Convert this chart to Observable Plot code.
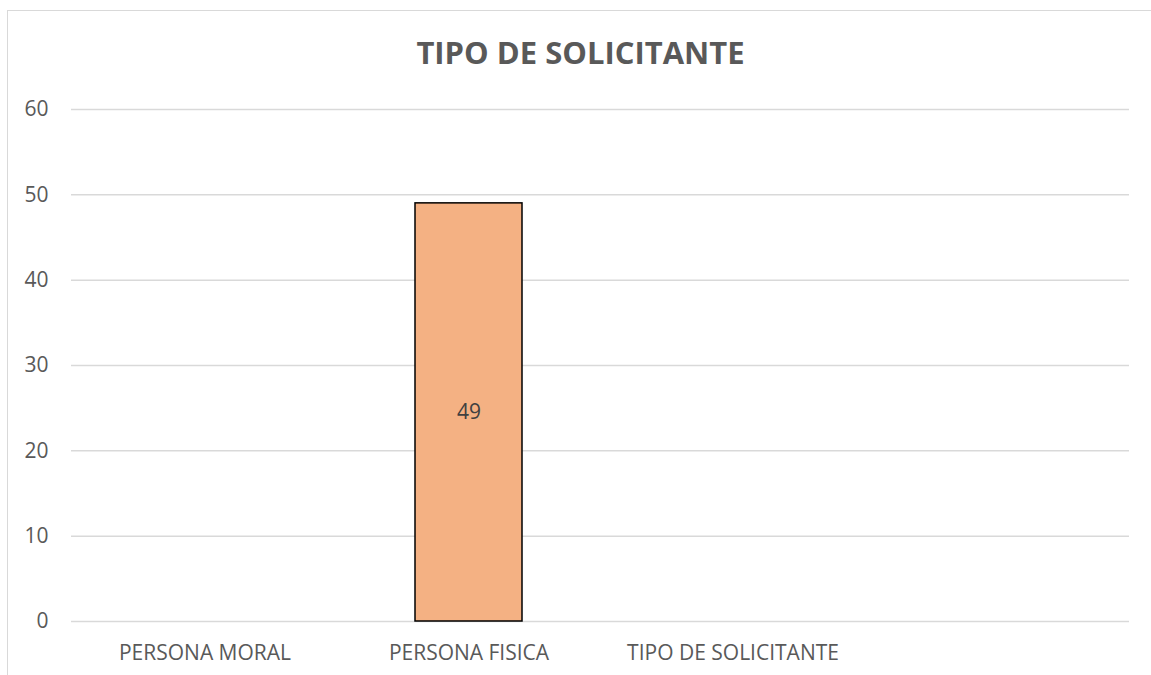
<!DOCTYPE html>
<html>
<head>
<meta charset="utf-8">
<script src="https://cdn.jsdelivr.net/npm/d3@7"></script>
<script src="https://cdn.jsdelivr.net/npm/@observablehq/plot@0.6"></script>
<style>
  html, body { margin: 0; padding: 0; background: #fff; }
  #wrap { position: relative; width: 1151px; height: 675px; overflow: hidden; font-family: "Open Sans", sans-serif; }
  #border { position: absolute; left: 7px; top: 10px; width: 1200px; height: 700px; border-left: 1px solid #d9d9d9; border-top: 1px solid #d9d9d9; box-sizing: border-box; }
  #title { position: absolute; left: 0; top: 31px; width: 1161px; text-align: center; font-size: 31px; font-weight: bold; color: #595959; }
  #chart { position: absolute; left: 0; top: 0; }
</style>
</head>
<body>
<div id="wrap">
  <div id="border"></div>
  <div id="title">TIPO DE SOLICITANTE</div>
  <div id="chart"></div>
</div>
<script>
const categories = ["PERSONA MORAL", "PERSONA FISICA", "TIPO DE SOLICITANTE", ""];
const values = [null, 49, null, null];
const yTicks = [0, 10, 20, 30, 40, 50, 60];

const data = categories.map((c, i) => ({key: "c" + i, label: c, value: values[i]}));
const keys = data.map(d => d.key);
const labelOf = Object.fromEntries(data.map(d => [d.key, d.label]));
const bars = data.filter(d => d.value != null);

const chart = Plot.plot({
  width: 1151,
  height: 675,
  marginLeft: 71,
  marginRight: 22,
  marginTop: 109,
  marginBottom: 54,
  style: {fontFamily: "Open Sans, sans-serif", fontSize: "21px", color: "#595959", background: "transparent"},
  x: {domain: keys, paddingInner: 0.595, paddingOuter: 0.2975, label: null, tickSize: 0, tickPadding: 24, tickFormat: k => labelOf[k]},
  y: {domain: [0, 60], ticks: yTicks, label: null, tickSize: 0, tickPadding: 23},
  marks: [
    Plot.gridY(yTicks, {stroke: "#d9d9d9", strokeOpacity: 1, strokeWidth: 1.5}),
    Plot.barY(bars, {x: "key", y: "value", fill: "#F4B183", stroke: "#000", strokeWidth: 1.5}),
    Plot.text(bars, {x: "key", y: d => d.value / 2, text: d => String(d.value), fill: "#404040", fontSize: 21})
  ]
});
document.getElementById("chart").appendChild(chart);
</script>
</body>
</html>
